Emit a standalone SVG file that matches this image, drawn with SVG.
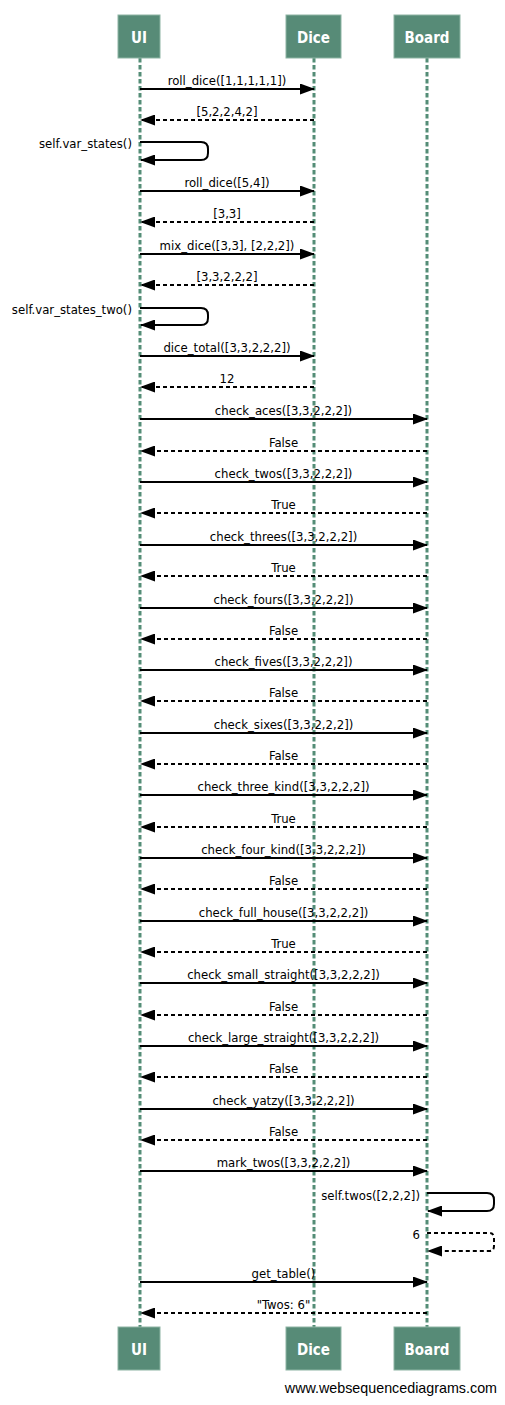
<svg xmlns="http://www.w3.org/2000/svg" width="505" height="1405" viewBox="0 0 505 1405">
<style>
.bg{fill:#ffffff}
.box rect{fill:#578b77;stroke:#8db4a4;stroke-width:1}
.box text{fill:#ffffff;font-family:"DejaVu Sans Condensed","DejaVu Sans",sans-serif;font-stretch:condensed;font-weight:bold;font-size:15px;text-anchor:middle}
.life{stroke:#548d77;stroke-width:3;stroke-dasharray:4.5,2.5;fill:none}
.msg{stroke:#000;stroke-width:2;fill:none;marker-end:url(#ah)}
.ret{stroke:#000;stroke-width:2;fill:none;stroke-dasharray:4,3;marker-end:url(#ah)}
.lbl{font-family:"DejaVu Sans Condensed","DejaVu Sans",sans-serif;font-stretch:condensed;font-size:13px;fill:#000;text-anchor:middle}
.slbl{font-family:"DejaVu Sans Condensed","DejaVu Sans",sans-serif;font-stretch:condensed;font-size:13px;fill:#000;text-anchor:end}
.foot{font-family:"Liberation Sans",Arial,sans-serif;font-size:14.3px;fill:#000;text-anchor:end}
</style>
<defs>
<marker id="ah" viewBox="0 0 15 11" refX="14" refY="5.5" markerWidth="15" markerHeight="11" orient="auto" markerUnits="userSpaceOnUse">
<path d="M0,0 L15,5.5 L0,11 z" fill="#000"/>
</marker>
</defs>
<rect class="bg" x="0" y="0" width="505" height="1405"/>
<g id="lifelines">
<line class="life" x1="140" y1="58" x2="140" y2="1327"/>
<line class="life" x1="314" y1="58" x2="314" y2="1327"/>
<line class="life" x1="427" y1="58" x2="427" y2="1327"/>
</g>
<g id="UI" class="box">
<rect x="118" y="15" width="42" height="43"/><text x="139" y="43">UI</text>
<rect x="118" y="1327" width="42" height="43"/><text x="139" y="1355">UI</text>
</g>
<g id="Dice" class="box">
<rect x="286" y="15" width="55" height="43"/><text x="313.5" y="43">Dice</text>
<rect x="286" y="1327" width="55" height="43"/><text x="313.5" y="1355">Dice</text>
</g>
<g id="Board" class="box">
<rect x="394" y="15" width="66" height="43"/><text x="427" y="43">Board</text>
<rect x="394" y="1327" width="66" height="43"/><text x="427" y="1355">Board</text>
</g>
<g id="connectors">
<line class="msg" x1="140" y1="89" x2="314" y2="89"/>
<line class="ret" x1="314" y1="120" x2="141" y2="120"/>
<path class="msg" d="M140,142 H201 Q208,142 208,149 V153 Q208,160 201,160 H141"/>
<line class="msg" x1="140" y1="191" x2="314" y2="191"/>
<line class="ret" x1="314" y1="222" x2="141" y2="222"/>
<line class="msg" x1="140" y1="254" x2="314" y2="254"/>
<line class="ret" x1="314" y1="285" x2="141" y2="285"/>
<path class="msg" d="M140,308 H201 Q208,308 208,315 V318 Q208,325 201,325 H141"/>
<line class="msg" x1="140" y1="356" x2="314" y2="356"/>
<line class="ret" x1="314" y1="387" x2="141" y2="387"/>
<line class="msg" x1="140" y1="419" x2="427" y2="419"/>
<line class="ret" x1="427" y1="451" x2="141" y2="451"/>
<line class="msg" x1="140" y1="482" x2="427" y2="482"/>
<line class="ret" x1="427" y1="513" x2="141" y2="513"/>
<line class="msg" x1="140" y1="545" x2="427" y2="545"/>
<line class="ret" x1="427" y1="576" x2="141" y2="576"/>
<line class="msg" x1="140" y1="608" x2="427" y2="608"/>
<line class="ret" x1="427" y1="639" x2="141" y2="639"/>
<line class="msg" x1="140" y1="670" x2="427" y2="670"/>
<line class="ret" x1="427" y1="701" x2="141" y2="701"/>
<line class="msg" x1="140" y1="733" x2="427" y2="733"/>
<line class="ret" x1="427" y1="764" x2="141" y2="764"/>
<line class="msg" x1="140" y1="795" x2="427" y2="795"/>
<line class="ret" x1="427" y1="827" x2="141" y2="827"/>
<line class="msg" x1="140" y1="858" x2="427" y2="858"/>
<line class="ret" x1="427" y1="889" x2="141" y2="889"/>
<line class="msg" x1="140" y1="921" x2="427" y2="921"/>
<line class="ret" x1="427" y1="952" x2="141" y2="952"/>
<line class="msg" x1="140" y1="983" x2="427" y2="983"/>
<line class="ret" x1="427" y1="1015" x2="141" y2="1015"/>
<line class="msg" x1="140" y1="1046" x2="427" y2="1046"/>
<line class="ret" x1="427" y1="1077" x2="141" y2="1077"/>
<line class="msg" x1="140" y1="1109" x2="427" y2="1109"/>
<line class="ret" x1="427" y1="1140" x2="141" y2="1140"/>
<line class="msg" x1="140" y1="1171" x2="427" y2="1171"/>
<path class="msg" d="M427,1193 H487 Q494,1193 494,1200 V1204 Q494,1211 487,1211 H428"/>
<path class="ret" d="M427,1233 H489 Q494,1233 494,1238 V1246 Q494,1251 489,1251 H428"/>
<line class="msg" x1="140" y1="1282" x2="427" y2="1282"/>
<line class="ret" x1="427" y1="1313" x2="141" y2="1313"/>
</g>
<g id="labels">
<text class="lbl" x="227" y="85">roll_dice([1,1,1,1,1])</text>
<text class="lbl" x="227" y="116">[5,2,2,4,2]</text>
<text class="slbl" x="132" y="148">self.var_states()</text>
<text class="lbl" x="227" y="187">roll_dice([5,4])</text>
<text class="lbl" x="227" y="218">[3,3]</text>
<text class="lbl" x="227" y="250">mix_dice([3,3], [2,2,2])</text>
<text class="lbl" x="227" y="281">[3,3,2,2,2]</text>
<text class="slbl" x="132" y="314">self.var_states_two()</text>
<text class="lbl" x="227" y="352">dice_total([3,3,2,2,2])</text>
<text class="lbl" x="227" y="383">12</text>
<text class="lbl" x="283.5" y="415">check_aces([3,3,2,2,2])</text>
<text class="lbl" x="283.5" y="447">False</text>
<text class="lbl" x="283.5" y="478">check_twos([3,3,2,2,2])</text>
<text class="lbl" x="283.5" y="509">True</text>
<text class="lbl" x="283.5" y="541">check_threes([3,3,2,2,2])</text>
<text class="lbl" x="283.5" y="572">True</text>
<text class="lbl" x="283.5" y="604">check_fours([3,3,2,2,2])</text>
<text class="lbl" x="283.5" y="635">False</text>
<text class="lbl" x="283.5" y="666">check_fives([3,3,2,2,2])</text>
<text class="lbl" x="283.5" y="697">False</text>
<text class="lbl" x="283.5" y="729">check_sixes([3,3,2,2,2])</text>
<text class="lbl" x="283.5" y="760">False</text>
<text class="lbl" x="283.5" y="791">check_three_kind([3,3,2,2,2])</text>
<text class="lbl" x="283.5" y="823">True</text>
<text class="lbl" x="283.5" y="854">check_four_kind([3,3,2,2,2])</text>
<text class="lbl" x="283.5" y="885">False</text>
<text class="lbl" x="283.5" y="917">check_full_house([3,3,2,2,2])</text>
<text class="lbl" x="283.5" y="948">True</text>
<text class="lbl" x="283.5" y="979">check_small_straight([3,3,2,2,2])</text>
<text class="lbl" x="283.5" y="1011">False</text>
<text class="lbl" x="283.5" y="1042">check_large_straight([3,3,2,2,2])</text>
<text class="lbl" x="283.5" y="1073">False</text>
<text class="lbl" x="283.5" y="1105">check_yatzy([3,3,2,2,2])</text>
<text class="lbl" x="283.5" y="1136">False</text>
<text class="lbl" x="283.5" y="1167">mark_twos([3,3,2,2,2])</text>
<text class="slbl" x="420" y="1200">self.twos([2,2,2])</text>
<text class="slbl" x="420" y="1239">6</text>
<text class="lbl" x="283.5" y="1278">get_table()</text>
<text class="lbl" x="283.5" y="1309">"Twos: 6"</text>
</g>
<text class="foot" x="497" y="1393">www.websequencediagrams.com</text>
</svg>
